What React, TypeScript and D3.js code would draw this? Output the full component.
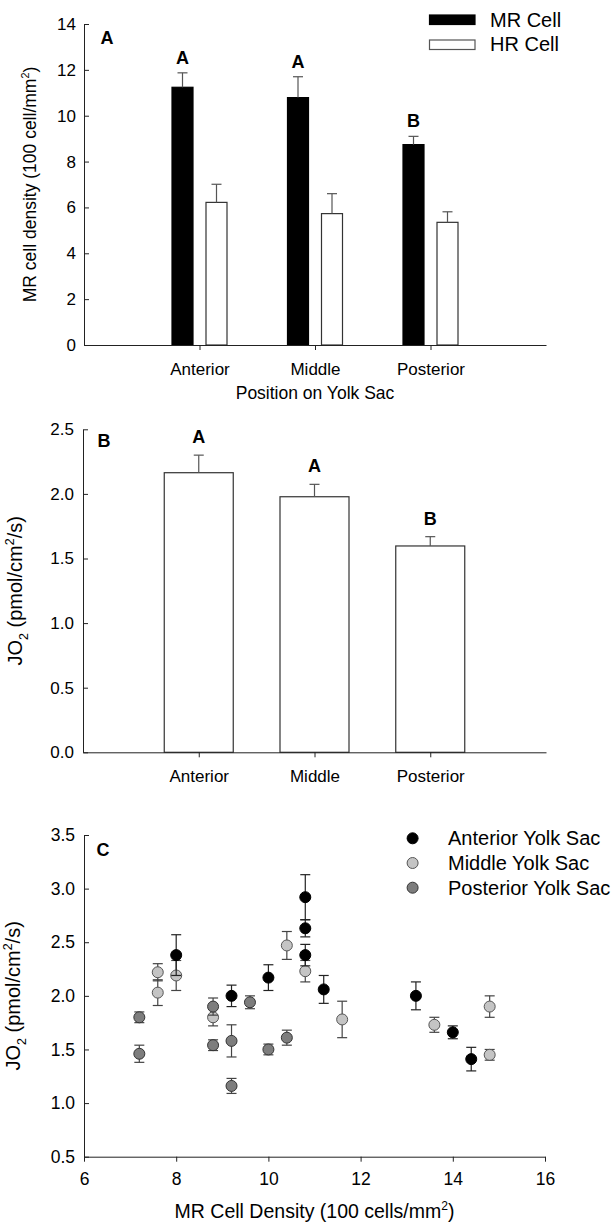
import React, { useEffect, useRef } from 'react';
import * as d3 from 'd3';

// panel A / B categories
const positions = ['Anterior', 'Middle', 'Posterior'];

// panel A: cell density (100 cell/mm2), mean and upper SE
const mrDensity = [11.24, 10.79, 8.74];
const mrDensityErr = [0.63, 0.91, 0.36];
const hrDensity = [6.22, 5.73, 5.35];
const hrDensityErr = [0.79, 0.87, 0.46];
const densityLetters = ['A', 'A', 'B'];
const densityTicks = [0, 2, 4, 6, 8, 10, 12, 14];

// panel B: JO2 (pmol/cm2/s)
const jo2 = [2.164, 1.978, 1.597];
const jo2Err = [0.136, 0.096, 0.072];
const jo2Letters = ['A', 'A', 'B'];
const jo2Ticks = [0, 0.5, 1.0, 1.5, 2.0, 2.5];

// panel C: JO2 vs MR cell density
const anteriorX = [8.0, 9.2, 10.0, 10.8, 10.8, 10.8, 11.2, 13.2, 14.0, 14.4];
const anteriorY = [2.38, 2.0, 2.17, 2.92, 2.63, 2.38, 2.06, 2.0, 1.66, 1.41];
const anteriorErr = [0.19, 0.1, 0.12, 0.21, 0.08, 0.1, 0.13, 0.13, 0.06, 0.11];
const middleX = [7.6, 7.6, 8.0, 8.8, 10.4, 10.8, 11.6, 13.6, 14.8, 14.8];
const middleY = [2.22, 2.03, 2.19, 1.8, 2.47, 2.23, 1.78, 1.73, 1.9, 1.45];
const middleErr = [0.08, 0.12, 0.14, 0.08, 0.13, 0.1, 0.17, 0.07, 0.1, 0.05];
const posteriorX = [7.2, 7.2, 8.8, 8.8, 9.2, 9.2, 9.6, 10.0, 10.4];
const posteriorY = [1.8, 1.46, 1.9, 1.54, 1.58, 1.16, 1.94, 1.5, 1.61];
const posteriorErr = [0.05, 0.08, 0.08, 0.05, 0.15, 0.07, 0.06, 0.05, 0.07];
const scatterXTicks = [6, 8, 10, 12, 14, 16];
const scatterYTicks = [0.5, 1.0, 1.5, 2.0, 2.5, 3.0, 3.5];

const FONT = '"Liberation Sans", Arial, Helvetica, sans-serif';
const AXIS = '#222';
const ERR = '#555';

type Part = { t: string; sup?: boolean; sub?: boolean };

const richText = (sel: any, parts: Part[], size: number) => {
  let prev = 0;
  parts.forEach((p) => {
    const shift = p.sup ? -0.42 * size : p.sub ? 0.28 * size : 0;
    sel
      .append('tspan')
      .attr('dy', shift - prev)
      .attr('font-size', p.sup || p.sub ? size * 0.62 : size)
      .text(p.t);
    prev = shift;
  });
};

const styleAxis = (g: any, size: number) => {
  g.attr('font-family', null).attr('font-size', null);
  g.select('.domain').attr('stroke', AXIS);
  g.selectAll('.tick line').attr('stroke', AXIS);
  g.selectAll('.tick text')
    .attr('fill', '#000')
    .style('font-family', FONT)
    .style('font-size', size + 'px');
};

const yLabel = (svg: any, x: number, y: number, parts: Part[], size: number) => {
  const t = svg
    .append('text')
    .attr('transform', `translate(${x},${y}) rotate(-90)`)
    .attr('text-anchor', 'middle')
    .attr('dy', '0.35em')
    .style('font-family', FONT)
    .style('font-size', size + 'px');
  richText(t, parts, size);
};

const plainText = (svg: any, x: number, y: number, s: string, size: number, bold = false, anchor = 'middle') =>
  svg
    .append('text')
    .attr('x', x)
    .attr('y', y)
    .attr('text-anchor', anchor)
    .style('font-family', FONT)
    .style('font-size', size + 'px')
    .style('font-weight', bold ? 'bold' : 'normal')
    .text(s);

const drawDensity = (svg: any) => {
  const x = d3.scalePoint().domain(positions).range([84, 546]).padding(1);
  const y = d3.scaleLinear().domain([0, 14]).range([345, 24]);
  const off = 17;
  const bw = 21;
  const series = [
    { vals: mrDensity, errs: mrDensityErr, dx: -off, fill: '#000', stroke: '#000' },
    { vals: hrDensity, errs: hrDensityErr, dx: off, fill: '#fff', stroke: '#333' },
  ];
  series.forEach((s) => {
    const g = svg.append('g');
    g.selectAll('rect')
      .data(s.vals)
      .join('rect')
      .attr('x', (d: number, i: number) => (x(positions[i]) as number) + s.dx - bw / 2)
      .attr('y', (d: number) => y(d))
      .attr('width', bw)
      .attr('height', (d: number) => y(0) - y(d))
      .attr('fill', s.fill)
      .attr('stroke', s.stroke)
      .attr('stroke-width', 1.2);
    s.vals.forEach((v, i) => {
      const cx = (x(positions[i]) as number) + s.dx;
      g.append('line').attr('x1', cx).attr('x2', cx).attr('y1', y(v)).attr('y2', y(v + s.errs[i]))
        .attr('stroke', ERR).attr('stroke-width', 1.2);
      g.append('line').attr('x1', cx - 5).attr('x2', cx + 5).attr('y1', y(v + s.errs[i])).attr('y2', y(v + s.errs[i]))
        .attr('stroke', ERR).attr('stroke-width', 1.2);
    });
  });
  densityLetters.forEach((l, i) => {
    plainText(svg, (x(positions[i]) as number) - off, y(mrDensity[i] + mrDensityErr[i]) - 9, l, 18, true);
  });

  const gx = svg.append('g').attr('transform', `translate(0,${y(0)})`)
    .call(d3.axisBottom(x).tickSizeInner(5).tickSizeOuter(0).tickPadding(13));
  styleAxis(gx, 17);
  const gy = svg.append('g').attr('transform', `translate(${x.range()[0]},0)`)
    .call(d3.axisLeft(y).tickValues(densityTicks).tickSizeInner(-5).tickSizeOuter(0).tickPadding(8));
  styleAxis(gy, 17);

  plainText(svg, 107, 44, 'A', 18, true);
  yLabel(svg, 36, (y(0) + y(14)) / 2, [{ t: 'MR cell density (100 cell/mm' }, { t: '2', sup: true }, { t: ')' }], 17.5);
  plainText(svg, 315, 399, 'Position on Yolk Sac', 17.5);

  // legend
  const legend = [
    { label: 'MR Cell', fill: '#000', stroke: '#000' },
    { label: 'HR Cell', fill: '#fff', stroke: '#555' },
  ];
  legend.forEach((l, i) => {
    svg.append('rect').attr('x', 429.5).attr('y', 15 + i * 25).attr('width', 45.5).attr('height', 9.5)
      .attr('fill', l.fill).attr('stroke', l.stroke).attr('stroke-width', 1.2);
    plainText(svg, 490, 27 + i * 23.5, l.label, 20, false, 'start');
  });
};

const drawJo2 = (svg: any) => {
  const x = d3.scalePoint().domain(positions).range([83, 546]).padding(1);
  const y = d3.scaleLinear().domain([0, 2.5]).range([752.3, 429.3]);
  const bw = 69;
  const g = svg.append('g');
  g.selectAll('rect')
    .data(jo2)
    .join('rect')
    .attr('x', (d: number, i: number) => (x(positions[i]) as number) - bw / 2)
    .attr('y', (d: number) => y(d))
    .attr('width', bw)
    .attr('height', (d: number) => y(0) - y(d))
    .attr('fill', '#fff')
    .attr('stroke', '#333')
    .attr('stroke-width', 1.2);
  jo2.forEach((v, i) => {
    const cx = x(positions[i]) as number;
    g.append('line').attr('x1', cx).attr('x2', cx).attr('y1', y(v)).attr('y2', y(v + jo2Err[i]))
      .attr('stroke', ERR).attr('stroke-width', 1.2);
    g.append('line').attr('x1', cx - 5).attr('x2', cx + 5).attr('y1', y(v + jo2Err[i])).attr('y2', y(v + jo2Err[i]))
      .attr('stroke', ERR).attr('stroke-width', 1.2);
    plainText(svg, cx, y(v + jo2Err[i]) - 12, jo2Letters[i], 18, true);
  });

  const gx = svg.append('g').attr('transform', `translate(0,${y(0)})`)
    .call(d3.axisBottom(x).tickSizeInner(5).tickSizeOuter(0).tickPadding(13));
  styleAxis(gx, 17);
  const gy = svg.append('g').attr('transform', `translate(${x.range()[0]},0)`)
    .call(d3.axisLeft(y).tickValues(jo2Ticks).tickFormat(d3.format('.1f')).tickSizeInner(-5).tickSizeOuter(0).tickPadding(9));
  styleAxis(gy, 17);

  plainText(svg, 104, 447, 'B', 18, true);
  yLabel(svg, 22, (y(0) + y(2.5)) / 2,
    [{ t: 'JO' }, { t: '2', sub: true }, { t: ' (pmol/cm' }, { t: '2', sup: true }, { t: '/s)' }], 20);
};

const drawScatter = (svg: any) => {
  const x = d3.scaleLinear().domain([6, 16]).range([84, 545]);
  const y = d3.scaleLinear().domain([0.5, 3.5]).range([1156.7, 835]);
  const series = [
    { label: 'Middle Yolk Sac', xs: middleX, ys: middleY, es: middleErr, fill: '#c4c4c4', stroke: '#555', err: '#444' },
    { label: 'Posterior Yolk Sac', xs: posteriorX, ys: posteriorY, es: posteriorErr, fill: '#7d7d7d', stroke: '#333', err: '#444' },
    { label: 'Anterior Yolk Sac', xs: anteriorX, ys: anteriorY, es: anteriorErr, fill: '#000', stroke: '#000', err: '#222' },
  ];
  series.forEach((s) => {
    const g = svg.append('g');
    s.xs.forEach((xv, i) => {
      const cx = x(xv);
      const top = y(s.ys[i] + s.es[i]);
      const bot = y(s.ys[i] - s.es[i]);
      g.append('line').attr('x1', cx).attr('x2', cx).attr('y1', top).attr('y2', bot)
        .attr('stroke', s.err).attr('stroke-width', 1.2);
      [top, bot].forEach((yy) => {
        g.append('line').attr('x1', cx - 5).attr('x2', cx + 5).attr('y1', yy).attr('y2', yy)
          .attr('stroke', s.err).attr('stroke-width', 1.2);
      });
    });
    g.selectAll('circle')
      .data(s.xs)
      .join('circle')
      .attr('cx', (d: number) => x(d))
      .attr('cy', (d: number, i: number) => y(s.ys[i]))
      .attr('r', 5.5)
      .attr('fill', s.fill)
      .attr('stroke', s.stroke)
      .attr('stroke-width', 1);
  });

  const gx = svg.append('g').attr('transform', `translate(0,${y.range()[0]})`)
    .call(d3.axisBottom(x).tickValues(scatterXTicks).tickSizeInner(5).tickSizeOuter(0).tickPadding(11));
  styleAxis(gx, 17.5);
  const gy = svg.append('g').attr('transform', `translate(${x.range()[0]},0)`)
    .call(d3.axisLeft(y).tickValues(scatterYTicks).tickFormat(d3.format('.1f')).tickSizeInner(-5).tickSizeOuter(0).tickPadding(9));
  styleAxis(gy, 17.5);

  plainText(svg, 103, 856, 'C', 18, true);
  yLabel(svg, 20, (y.range()[0] + y.range()[1]) / 2,
    [{ t: 'JO' }, { t: '2', sub: true }, { t: ' (pmol/cm' }, { t: '2', sup: true }, { t: '/s)' }], 20);
  const xt = svg.append('text').attr('x', (x.range()[0] + x.range()[1]) / 2).attr('y', 1218)
    .attr('text-anchor', 'middle').style('font-family', FONT).style('font-size', '19.5px');
  richText(xt, [{ t: 'MR Cell Density (100 cells/mm' }, { t: '2', sup: true }, { t: ')' }], 19.5);

  // legend, in the order anterior, middle, posterior
  const legendOrder = [series[2], series[0], series[1]];
  legendOrder.forEach((s, i) => {
    const ly = 838.3 + i * 24.7;
    svg.append('circle').attr('cx', 412.6).attr('cy', ly).attr('r', 5.5)
      .attr('fill', s.fill).attr('stroke', s.stroke).attr('stroke-width', 1);
    plainText(svg, 448, ly + 7, s.label, 20, false, 'start');
  });
};

const App = () => {
  const svgRef = useRef<SVGSVGElement>(null);

  useEffect(() => {
    const svg = d3.select(svgRef.current);
    svg.selectAll('*').remove();
    drawDensity(svg);
    drawJo2(svg);
    drawScatter(svg);
  }, []);

  return (
    <svg
      ref={svgRef}
      width={614}
      height={1226}
      style={{ position: 'absolute', left: 0, top: 0, background: '#fff' }}
    />
  );
};

export default App;
